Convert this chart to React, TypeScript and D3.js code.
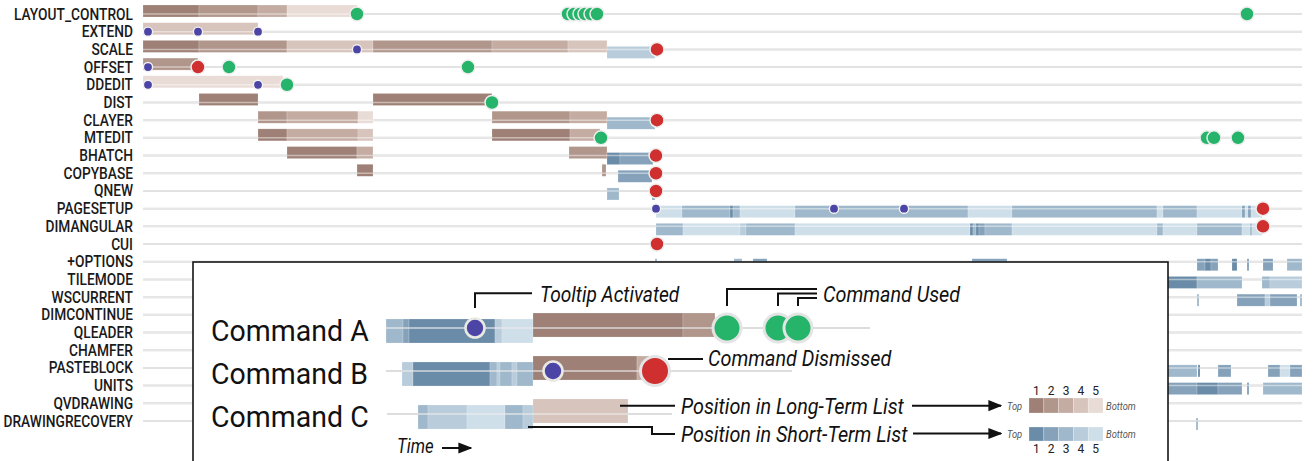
import React from 'react';
import * as d3 from 'd3';

// ---------- DATA ----------
const commands = [
  'LAYOUT_CONTROL', 'EXTEND', 'SCALE', 'OFFSET', 'DDEDIT', 'DIST', 'CLAYER', 'MTEDIT',
  'BHATCH', 'COPYBASE', 'QNEW', 'PAGESETUP', 'DIMANGULAR', 'CUI', '+OPTIONS', 'TILEMODE',
  'WSCURRENT', 'DIMCONTINUE', 'QLEADER', 'CHAMFER', 'PASTEBLOCK', 'UNITS', 'QVDRAWING', 'DRAWINGRECOVERY',
];
const timeDomain = [0, 1160];
const ranks = [1, 2, 3, 4, 5];

// [row, start, end, rank] — position in long-term list
const longTermSegments: number[][] = [
  [0, 0, 56, 1], [0, 56, 115, 2], [0, 115, 144, 3], [0, 144, 214, 5],
  [1, 0, 115, 4],
  [2, 0, 56, 1], [2, 56, 144, 2], [2, 144, 230, 4], [2, 230, 349, 2], [2, 349, 425, 3], [2, 425, 464, 4],
  [3, 0, 55, 2],
  [4, 0, 140, 5],
  [5, 56, 115, 1], [5, 230, 349, 1],
  [6, 115, 144, 2], [6, 144, 215, 3], [6, 215, 230, 5], [6, 349, 427, 2], [6, 427, 464, 3],
  [7, 115, 144, 1], [7, 144, 215, 3], [7, 215, 230, 4], [7, 349, 427, 1], [7, 427, 457, 3],
  [8, 144, 214, 1], [8, 214, 230, 3], [8, 426, 464, 2],
  [9, 214, 230, 1], [9, 459, 463, 2],
];

// [row, start, end, rank] — position in short-term list
const shortTermSegments: number[][] = [
  [2, 464, 512, 4],
  [6, 464, 512, 3],
  [8, 464, 477, 1], [8, 477, 510, 2],
  [9, 475, 509, 2],
  [10, 464, 476, 3], [10, 509, 512, 2],
  [11, 513, 539, 5], [11, 539, 587, 3], [11, 587, 590, 1], [11, 590, 597, 3], [11, 597, 652, 5],
  [11, 652, 825, 3], [11, 825, 869, 5], [11, 869, 1014, 3], [11, 1014, 1020, 5], [11, 1020, 1054, 3],
  [11, 1054, 1099, 5], [11, 1099, 1102, 2], [11, 1102, 1105, 5], [11, 1105, 1108, 2], [11, 1108, 1119, 5],
  [12, 513, 540, 3], [12, 540, 597, 5], [12, 597, 603, 4], [12, 603, 652, 3], [12, 652, 827, 5],
  [12, 827, 830, 1], [12, 830, 833, 3], [12, 833, 836, 1], [12, 836, 842, 2], [12, 842, 869, 3],
  [12, 869, 1014, 5], [12, 1014, 1020, 3], [12, 1020, 1054, 5], [12, 1054, 1099, 3], [12, 1099, 1107, 5],
  [12, 1107, 1109, 3], [12, 1109, 1119, 5],
  [14, 512, 514, 3], [14, 591, 599, 3], [14, 610, 624, 2], [14, 829, 864, 2],
  [14, 1054, 1062, 2], [14, 1062, 1068, 1], [14, 1068, 1075, 2], [14, 1089, 1094, 1], [14, 1104, 1106, 2],
  [14, 1120, 1130, 2], [14, 1144, 1159, 3],
  [15, 1020, 1054, 1], [15, 1054, 1099, 3], [15, 1119, 1127, 3], [15, 1127, 1159, 4],
  [16, 1054, 1056, 3], [16, 1094, 1122, 2], [16, 1122, 1127, 4], [16, 1127, 1154, 2], [16, 1157, 1159, 3],
  [20, 1020, 1054, 3], [20, 1055, 1057, 1], [20, 1075, 1088, 2], [20, 1125, 1137, 2], [20, 1137, 1147, 5], [20, 1147, 1159, 2],
  [21, 1020, 1054, 2], [21, 1054, 1075, 1], [21, 1075, 1099, 2], [21, 1104, 1106, 2], [21, 1120, 1159, 3],
  [23, 1053, 1055, 3],
];

// [row, time]
const usedEvents: number[][] = [
  [0, 214], [0, 425], [0, 431], [0, 437], [0, 442], [0, 448], [0, 454], [0, 1104],
  [3, 86], [3, 325], [4, 144], [5, 349],
  [7, 458], [7, 1064], [7, 1071], [7, 1095],
];
const dismissedEvents: number[][] = [
  [2, 514], [3, 55], [6, 514], [8, 513], [9, 513], [10, 513], [11, 1120], [12, 1120], [13, 514],
];
const tooltipEvents: number[][] = [
  [1, 5], [1, 55], [1, 115], [2, 214], [3, 5], [4, 5], [4, 115], [11, 513], [11, 691], [11, 761],
];

// Legend sample data
const legendRows = ['Command A', 'Command B', 'Command C'];
const legendDomain = [0, 484];
const legendLineExtent: number[][] = [[0, 484], [0, 406], [1, 286]];
const legendShort: number[][] = [
  [0, 0, 17, 3], [0, 17, 23, 2], [0, 23, 109, 1], [0, 109, 116, 4], [0, 116, 147, 5],
  [1, 16, 27, 4], [1, 27, 104, 1], [1, 104, 111, 3], [1, 111, 114, 4], [1, 114, 126, 3], [1, 126, 131, 4], [1, 131, 147, 3],
  [2, 32, 42, 3], [2, 42, 81, 4], [2, 81, 119, 5], [2, 119, 137, 3], [2, 137, 147, 4],
];
const legendLong: number[][] = [
  [0, 147, 297, 1], [0, 297, 329, 2],
  [1, 147, 251, 1], [1, 251, 271, 3],
  [2, 147, 242, 4],
];
const legendUsed: number[][] = [[0, 341], [0, 392], [0, 412]];
const legendDismissed: number[][] = [[1, 269]];
const legendTooltip: number[][] = [[0, 89], [1, 167]];

// ---------- STYLE ----------
const W = 1315, H = 461;
const brown = ['#9e8076', '#b1968c', '#c4aca3', '#d7c4bc', '#e9dbd5'];
const blue = ['#6b8ca8', '#85a2ba', '#9fb8cb', '#b8ccdc', '#cfdfea'];
const GREEN = '#25b46a', RED = '#cf2f2e', PURPLE = '#4c45a6';
const FONT = 'Roboto, "Liberation Sans", Arial, sans-serif';

const T = ({ x, y, sx = 1, children, ...rest }: any) => (
  <text transform={`translate(${x},${y}) scale(${sx},1)`} {...rest}>{children}</text>
);

export default function App() {
  const x = d3.scaleLinear().domain(timeDomain).range([143, 1303]);
  const y = d3.scalePoint<string>().domain(commands).range([14, 421]);
  const ry = (i: number) => y(commands[i]) as number;

  const lx = d3.scaleLinear().domain(legendDomain).range([386, 870]);
  const ly = d3.scalePoint<string>().domain(legendRows).range([328, 414]);
  const lry = (i: number) => ly(legendRows[i]) as number;

  const swatch = d3.scaleBand<number>().domain(ranks).range([1029, 1103]);

  const usedA = legendUsed.map(d => lx(d[1]));
  const usedLevels = [289, 293.5, 298];

  return (
    <svg width={W} height={H} style={{ position: 'absolute', left: 0, top: 0, background: '#fff' }} fontFamily={FONT}>
      <defs>
        <marker id="arr" viewBox="0 0 10 10" refX="9" refY="5" markerWidth="7" markerHeight="7" orient="auto">
          <path d="M0,1 L10,5 L0,9 Z" fill="#111" />
        </marker>
      </defs>

      {/* grid lines */}
      {commands.map((c, i) => (
        <line key={c} x1={x(0)} x2={x(1159)} y1={ry(i)} y2={ry(i)} stroke="#d3d3d3" strokeWidth={2} />
      ))}

      {/* labels */}
      {commands.map((c, i) => (
        <T key={c} x={133} y={ry(i) + 5.5} sx={0.86} textAnchor="end" fontSize={16} fontWeight={500} fill="#1a1a1a">{c}</T>
      ))}

      {/* long-term bars */}
      {longTermSegments.map((d, k) => (
        <rect key={'l' + k} x={x(d[1])} width={x(d[2]) - x(d[1])} y={ry(d[0]) - 9} height={12}
          fill={brown[d[3] - 1]} stroke="rgba(255,255,255,0.35)" strokeWidth={0.5} />
      ))}
      {/* short-term bars */}
      {shortTermSegments.map((d, k) => (
        <rect key={'s' + k} x={x(d[1])} width={x(d[2]) - x(d[1])} y={ry(d[0]) - 3} height={12}
          fill={blue[d[3] - 1]} stroke="rgba(255,255,255,0.35)" strokeWidth={0.5} />
      ))}
      {/* line over bars */}
      {commands.map((c, i) => (
        <line key={'o' + c} x1={x(0)} x2={x(1159)} y1={ry(i)} y2={ry(i)} stroke="rgba(255,255,255,0.45)" strokeWidth={1.5} />
      ))}

      {/* events */}
      {tooltipEvents.map((d, k) => (
        <circle key={'t' + k} cx={x(d[1])} cy={ry(d[0])} r={4.6} fill={PURPLE} stroke="#f2f2f2" strokeWidth={1.4} />
      ))}
      {usedEvents.map((d, k) => (
        <circle key={'u' + k} cx={x(d[1])} cy={ry(d[0])} r={7} fill={GREEN} stroke="#eeeeee" strokeWidth={1.5} />
      ))}
      {dismissedEvents.map((d, k) => (
        <circle key={'d' + k} cx={x(d[1])} cy={ry(d[0])} r={7} fill={RED} stroke="#eeeeee" strokeWidth={1.5} />
      ))}

      {/* ---------- legend box ---------- */}
      <rect x={193} y={262} width={975} height={230} fill="#fff" stroke="#151515" strokeWidth={1.6} />

      {legendRows.map((r, i) => (
        <g key={r}>
          <line x1={lx(legendLineExtent[i][0])} x2={lx(legendLineExtent[i][1])} y1={lry(i)} y2={lry(i)} stroke="#c9c9c9" strokeWidth={2} />
          <T x={211} y={lry(i) + 13} sx={0.95} fontSize={30} fill="#111">{r}</T>
        </g>
      ))}
      {legendShort.map((d, k) => (
        <rect key={'ls' + k} x={lx(d[1])} width={lx(d[2]) - lx(d[1])} y={lry(d[0]) - 9} height={24}
          fill={blue[d[3] - 1]} stroke="rgba(255,255,255,0.3)" strokeWidth={0.6} />
      ))}
      {legendLong.map((d, k) => (
        <rect key={'ll' + k} x={lx(d[1])} width={lx(d[2]) - lx(d[1])} y={lry(d[0]) - 15} height={24}
          fill={brown[d[3] - 1]} stroke="rgba(255,255,255,0.3)" strokeWidth={0.6} />
      ))}
      {legendRows.map((r, i) => (
        <line key={'lo' + r} x1={lx(legendLineExtent[i][0])} x2={lx(legendLineExtent[i][1])} y1={lry(i)} y2={lry(i)} stroke="rgba(235,235,235,0.6)" strokeWidth={2} />
      ))}
      {legendTooltip.map((d, k) => (
        <circle key={'lt' + k} cx={lx(d[1])} cy={lry(d[0])} r={9.5} fill={PURPLE} stroke="#e9e9e4" strokeWidth={2.6} />
      ))}
      {legendUsed.map((d, k) => (
        <circle key={'lu' + k} cx={lx(d[1])} cy={lry(d[0])} r={14} fill={GREEN} stroke="#e4e4e4" strokeWidth={3} />
      ))}
      {legendDismissed.map((d, k) => (
        <circle key={'ld' + k} cx={lx(d[1])} cy={lry(d[0])} r={14.5} fill={RED} stroke="#e4e4e4" strokeWidth={3} />
      ))}

      {/* callouts */}
      <g fill="none" stroke="#111" strokeWidth={2}>
        <path d={`M${lx(legendTooltip[0][1])},308 V293.3 H532`} />
        {usedA.map((ux, k) => (
          <path key={'cu' + k} d={`M${ux},306 V${usedLevels[k]} H817`} />
        ))}
        <path d={`M668,359 H703`} />
        <path d={`M620,405.7 H675`} />
        <path d={`M528,427 H652 V434 H675`} />
        <path d={`M912,405.7 H1001`} markerEnd="url(#arr)" />
        <path d={`M913,433.5 H1001`} markerEnd="url(#arr)" />
        <path d={`M442,448 H471`} markerEnd="url(#arr)" />
      </g>
      <g fontStyle="italic" fill="#111" fontSize={22}>
        <T x={540} y={302} sx={0.87}>Tooltip Activated</T>
        <T x={823} y={302} sx={0.9}>Command Used</T>
        <T x={708} y={366} sx={0.9}>Command Dismissed</T>
        <T x={681} y={414} sx={0.9}>Position in Long-Term List</T>
        <T x={681} y={441.5} sx={0.9}>Position in Short-Term List</T>
        <T x={397} y={453} sx={0.84} fontSize={20}>Time</T>
      </g>

      {/* rank swatches */}
      {ranks.map((r, k) => (
        <g key={'sw' + r}>
          <rect x={swatch(r)} y={398} width={swatch.bandwidth()} height={15} fill={brown[k]} stroke="rgba(255,255,255,0.4)" strokeWidth={0.6} />
          <rect x={swatch(r)} y={427} width={swatch.bandwidth()} height={14} fill={blue[k]} stroke="rgba(255,255,255,0.4)" strokeWidth={0.6} />
          <text x={(swatch(r) as number) + swatch.bandwidth() / 2} y={395} textAnchor="middle" fontSize={12} fill="#222">{r}</text>
          <text x={(swatch(r) as number) + swatch.bandwidth() / 2} y={453} textAnchor="middle" fontSize={12} fill="#222">{r}</text>
        </g>
      ))}
      <g fontStyle="italic" fontSize={11} fill="#555">
        <T x={1007} y={410} sx={0.85}>Top</T>
        <T x={1007} y={438} sx={0.85}>Top</T>
        <T x={1106} y={410} sx={0.85}>Bottom</T>
        <T x={1106} y={438} sx={0.85}>Bottom</T>
      </g>
    </svg>
  );
}
